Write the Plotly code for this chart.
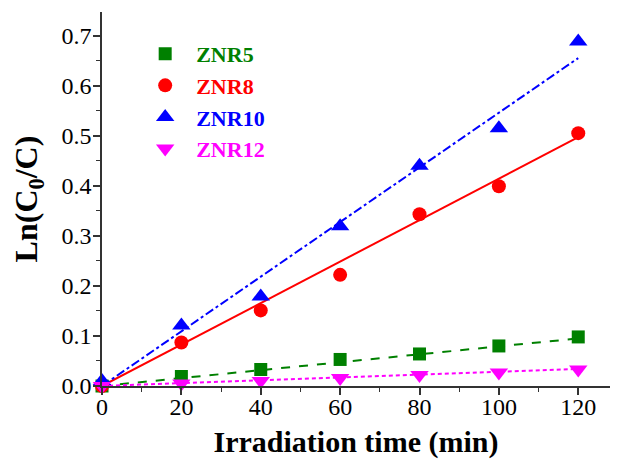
import plotly.graph_objects as go

time_min = [0, 20, 40, 60, 80, 100, 120]
znr5 = [0.0, 0.019, 0.033, 0.053, 0.064, 0.080, 0.098]
znr8 = [0.0, 0.087, 0.151, 0.222, 0.343, 0.399, 0.505]
znr10 = [0.01, 0.121, 0.179, 0.319, 0.440, 0.515, 0.688]
znr12 = [0.0, 0.005, 0.010, 0.016, 0.022, 0.027, 0.033]

fit_x = [0, 120]
fit5 = [0.0, 0.095]
fit8 = [0.0, 0.497]
fit10 = [0.0, 0.655]
fit12 = [0.0, 0.034]

names = ["ZNR5", "ZNR8", "ZNR10", "ZNR12"]
colors = ["#008000", "#ff0000", "#0000ff", "#ff00ff"]
symbols = ["square", "circle", "triangle-up", "triangle-down"]
msizes = [13, 14, 16, 16]
dashes = ["dash", "solid", "dashdot", "4px,3px"]
series = [znr5, znr8, znr10, znr12]
fits = [fit5, fit8, fit10, fit12]

fig = go.Figure()
for name, c, d, f in zip(names, colors, dashes, fits):
    fig.add_trace(go.Scatter(x=fit_x, y=f, mode="lines", showlegend=False,
                             line=dict(color=c, width=2, dash=d), hoverinfo="skip"))
for name, c, s, ms, y in zip(names, colors, symbols, msizes, series):
    fig.add_trace(go.Scatter(x=time_min, y=y, mode="markers",
                             name=f"&nbsp;&nbsp;<span style='color:{c}'><b>{name}</b></span>",
                             marker=dict(symbol=s, color=c, size=ms, line=dict(width=0)),
                             cliponaxis=False))

font_fam = "Liberation Serif, Times New Roman, serif"
# page body has an 8px default margin; figure is sized to fill the rest of the window
fig.update_layout(
    width=610, height=451,
    margin=dict(l=94, r=8, t=4, b=73),
    plot_bgcolor="white", paper_bgcolor="white",
    font=dict(family=font_fam, color="black"),
    showlegend=True,
    legend=dict(x=0.085, y=0.944, xanchor="left", yanchor="top",
                bgcolor="rgba(0,0,0,0)", font=dict(size=22, family=font_fam),
                tracegroupgap=0),
    xaxis=dict(range=[0, 128], tickvals=[0, 20, 40, 60, 80, 100, 120],
               ticks="outside", ticklen=7, tickwidth=1.5, tickcolor="#333",
               showline=True, linecolor="#333", linewidth=1.5, showgrid=False, zeroline=False,
               tickfont=dict(size=24, family=font_fam), automargin=False,
               ticklabelstandoff=-9,
               minor=dict(dtick=10, ticks="outside", ticklen=4, tickwidth=1.2, tickcolor="#333"),
               title=dict(text="<b>Irradiation time (min)</b>", font=dict(size=30, family=font_fam),
                          standoff=22)),
    yaxis=dict(range=[0, 0.747], tickvals=[0, 0.1, 0.2, 0.3, 0.4, 0.5, 0.6, 0.7],
               tickformat=".1f",
               ticks="outside", ticklen=7, tickwidth=1.5, tickcolor="#333",
               showline=True, linecolor="#333", linewidth=1.5, showgrid=False, zeroline=False,
               tickfont=dict(size=24, family=font_fam), automargin=False,
               ticklabelstandoff=-3,
               minor=dict(dtick=0.05, ticks="outside", ticklen=4, tickwidth=1.2, tickcolor="#333"),
               title=dict(text="<b>Ln(C<sub>0</sub>/C)</b>", font=dict(size=32, family=font_fam),
                          standoff=15)),
)
fig.update_xaxes(tickprefix="<b>", ticksuffix="</b>")
fig.update_yaxes(tickprefix="<b>", ticksuffix="</b>")
fig.write_html("out.html")
